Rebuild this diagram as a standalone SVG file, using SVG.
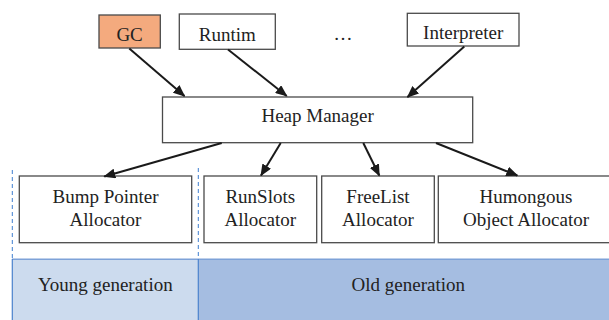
<svg xmlns="http://www.w3.org/2000/svg" width="609" height="320" viewBox="0 0 609 320">
<defs>
<style>
.box{fill:#ffffff;stroke:#4a4a4a;stroke-width:1.3}
.t{font-size:19px;fill:#222222;text-anchor:middle}
.c{stroke:#1a1a1a;stroke-width:2;fill:none;marker-end:url(#ah)}
.dash{stroke:#3f7fd0;stroke-width:1;stroke-dasharray:4 3;fill:none}
</style>
<marker id="ah" viewBox="0 0 12 10" refX="11" refY="5" markerWidth="12" markerHeight="10" markerUnits="userSpaceOnUse" orient="auto">
<path d="M0,0 L12,5 L0,10 Z" fill="#1a1a1a"/>
</marker>
</defs>
<rect width="609" height="320" fill="#ffffff"/>
<g font-family="Liberation Serif, DejaVu Serif, serif">
<g id="bands">
<rect x="12.3" y="259.3" width="186" height="61" fill="#ccdbee"/>
<rect x="198.3" y="259.3" width="411" height="61" fill="#a5bde1"/>
<line x1="12" y1="259.3" x2="609" y2="259.3" stroke="#7ea2d8" stroke-width="1.6"/>
<line x1="12.3" y1="259" x2="12.3" y2="320" stroke="#4a82cc" stroke-width="1.2"/>
<line x1="198.3" y1="259" x2="198.3" y2="320" stroke="#4a82cc" stroke-width="1.2"/>
<line class="dash" x1="12.3" y1="170" x2="12.3" y2="259"/>
<line class="dash" x1="198.3" y1="168" x2="198.3" y2="259"/>
<text class="t" x="105.3" y="290.5">Young generation</text>
<text class="t" x="408.3" y="290.5">Old generation</text>
</g>
<g id="gc"><rect x="99" y="15" width="61.3" height="33" fill="#f4aa7e" stroke="#4a4a4a" stroke-width="1.3"/><text class="t" x="129.6" y="40.5">GC</text></g>
<g id="runtim"><rect class="box" x="179.3" y="14" width="96" height="35.3"/><text class="t" x="227.3" y="40.5">Runtim</text></g>
<g id="ellipsis"><text class="t" x="343" y="40">…</text></g>
<g id="interpreter"><rect class="box" x="407.3" y="13.3" width="111.7" height="32.7"/><text class="t" x="463.2" y="38.5">Interpreter</text></g>
<g id="heap-manager"><rect class="box" x="162.5" y="97" width="310.2" height="45.7"/><text class="t" x="317.6" y="122">Heap Manager</text></g>
<g id="bump-pointer"><rect class="box" x="19.3" y="176" width="172.4" height="66.7"/><text class="t" x="105.5" y="202.7">Bump Pointer</text><text class="t" x="105.5" y="226">Allocator</text></g>
<g id="runslots"><rect class="box" x="204" y="176" width="112.7" height="66.7"/><text class="t" x="260.3" y="202.7">RunSlots</text><text class="t" x="260.3" y="226">Allocator</text></g>
<g id="freelist"><rect class="box" x="321.7" y="176" width="112.6" height="66.7"/><text class="t" x="378" y="202.7">FreeList</text><text class="t" x="378" y="226">Allocator</text></g>
<g id="humongous"><rect class="box" x="438.3" y="176" width="176" height="66.7"/><text class="t" x="526" y="202.7">Humongous</text><text class="t" x="526" y="226">Object Allocator</text></g>
</g>
<g id="connectors">
<line class="c" x1="129.3" y1="48.5" x2="184.5" y2="96"/>
<line class="c" x1="228" y1="49.5" x2="286.7" y2="96"/>
<line class="c" x1="464.3" y1="46.5" x2="407.5" y2="97"/>
<line class="c" x1="221.7" y1="143" x2="104.3" y2="176.5"/>
<line class="c" x1="280.7" y1="143" x2="261" y2="175.5"/>
<line class="c" x1="363.3" y1="143" x2="379.3" y2="175.5"/>
<line class="c" x1="436" y1="143" x2="517.3" y2="175.5"/>
</g>
</svg>
